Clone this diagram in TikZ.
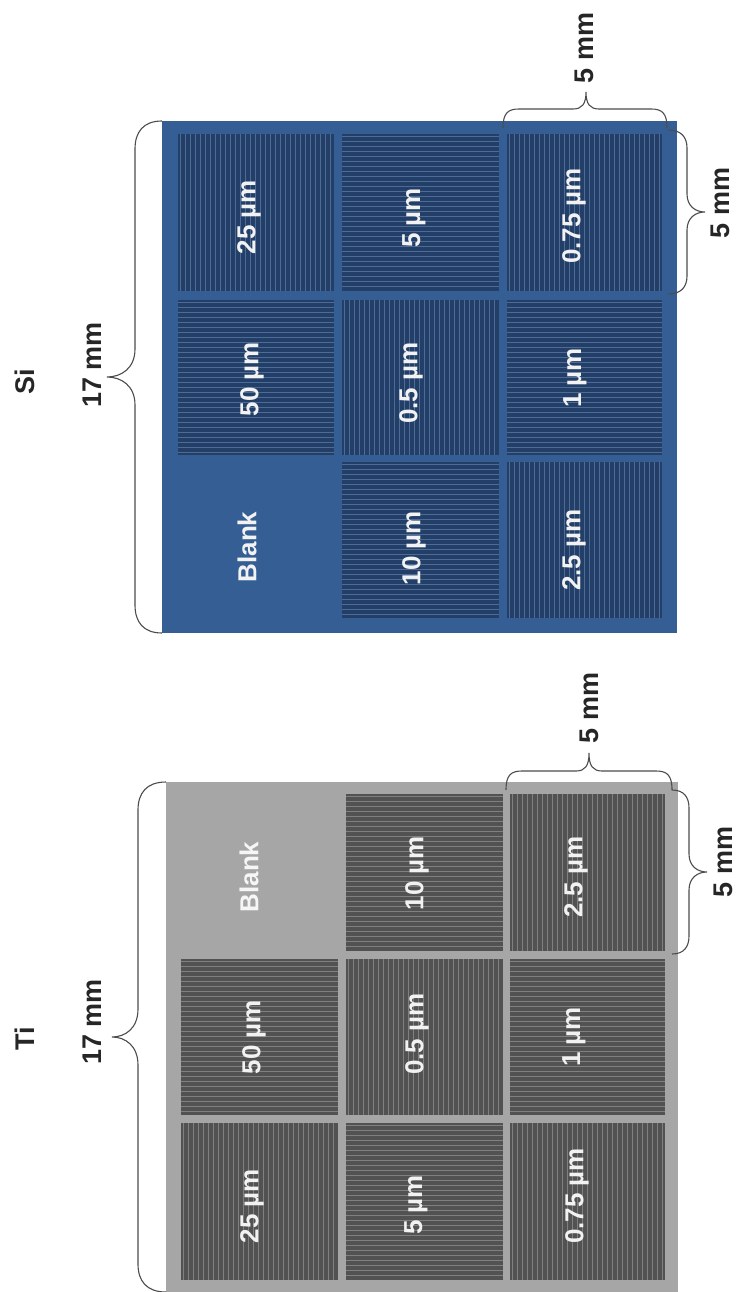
\documentclass[tikz,border=0pt]{standalone}
\usepackage{fontspec}
\setmainfont{Liberation Sans}
\definecolor{siplate}{HTML}{355F94}
\definecolor{sicell}{HTML}{233F68}
\definecolor{siline}{HTML}{4C6C97}
\definecolor{tiplate}{HTML}{A6A6A6}
\definecolor{ticell}{HTML}{525252}
\definecolor{tiline}{HTML}{808080}
\tikzset{
  dimlabel/.style={font=\fontsize{27}{30}\selectfont\bfseries,text=black!85,rotate=90,inner sep=0pt},
  celllabel/.style={font=\fontsize{26}{30}\selectfont\bfseries,text=white!95!black,rotate=90,inner sep=0pt},
  bracket/.style={draw=black!70,line width=1.1pt,fill=none},
  hatchline/.style={line width=1pt}
}
% x, y, w, h, cell colour, line colour
\newcommand{\cellV}[6]{%
  \fill[#5] (#1,#2) rectangle ++(#3,#4);
  \foreach \d in {2.5,7.5,...,#3} \draw[hatchline,#6] ({#1+\d},#2) -- ++(0,#4);}
\newcommand{\cellH}[6]{%
  \fill[#5] (#1,#2) rectangle ++(#3,#4);
  \foreach \d in {2.5,7.5,...,#4} \draw[hatchline,#6] (#1,{#2+\d}) -- ++(#3,0);}
% horizontal-run brace opening downwards: x0, xm, x1, ytop(spine), ytip, yend
\newcommand{\braceTop}[6]{%
  \draw[bracket] (#1,#6) .. controls (#1,{#4+4}) and ({#1+5},#4) .. ({#1+16},#4)
    -- ({#2-13},#4) .. controls ({#2-4},#4) and (#2,{#4-5}) .. (#2,#5)
    .. controls (#2,{#4-5}) and ({#2+4},#4) .. ({#2+13},#4)
    -- ({#3-16},#4) .. controls ({#3-5},#4) and (#3,{#4+4}) .. (#3,#6);}
% vertical-run brace opening sideways: xend, xspine, xtip, y0, ym, y1, radius
\newcommand{\braceSide}[7]{%
  \draw[bracket] (#1,#4) .. controls ({#1+0.7*(#2-#1)},#4) and (#2,{#4+0.4*#7}) .. (#2,{#4+#7})
    -- (#2,{#5-#7}) .. controls (#2,{#5-0.3*#7}) and ({#2+0.5*(#3-#2)},#5) .. (#3,#5)
    .. controls ({#2+0.5*(#3-#2)},#5) and (#2,{#5+0.3*#7}) .. (#2,{#5+#7})
    -- (#2,{#6-#7}) .. controls (#2,{#6-0.4*#7}) and ({#1+0.7*(#2-#1)},#6) .. (#1,#6);}
\begin{document}
\begin{tikzpicture}[x=1pt,y=-1pt]
\useasboundingbox (0,0) rectangle (738,1292);
\fill[white] (0,0) rectangle (738,1292);
% Si plate
\fill[siplate] (162,121) rectangle (677,633);
\cellV{178}{134}{156}{157}{sicell}{siline}
\cellH{342}{134}{157}{157}{sicell}{siline}
\cellV{507}{134}{155}{157}{sicell}{siline}
\cellH{178}{300}{156}{155}{sicell}{siline}
\cellV{342}{300}{157}{155}{sicell}{siline}
\cellH{507}{300}{155}{155}{sicell}{siline}
\cellH{342}{462}{157}{156}{sicell}{siline}
\cellV{507}{462}{155}{156}{sicell}{siline}
\node[celllabel] (si25) at (249,217) {25 µm};
\node[celllabel] (si5) at (414,218) {5 µm};
\node[celllabel] (si075) at (574,216) {0.75 µm};
\node[celllabel] (si50) at (252,379) {50 µm};
\node[celllabel] (si05) at (411,383) {0.5 µm};
\node[celllabel] (si1) at (575,378) {1 µm};
\node[celllabel] (siblank) at (247,547) {Blank};
\node[celllabel] (si10) at (414,548) {10 µm};
\node[celllabel] (si25b) at (574,550) {2.5 µm};
% Ti plate
\fill[tiplate] (166,782) rectangle (678,1292);
\cellH{346}{794}{157}{157}{ticell}{tiline}
\cellV{510}{794}{155}{157}{ticell}{tiline}
\cellH{181}{959}{157}{156}{ticell}{tiline}
\cellV{346}{959}{157}{156}{ticell}{tiline}
\cellH{510}{959}{155}{156}{ticell}{tiline}
\cellV{181}{1123}{157}{157}{ticell}{tiline}
\cellH{346}{1123}{157}{157}{ticell}{tiline}
\cellV{510}{1123}{155}{157}{ticell}{tiline}
\node[celllabel,text=white!90!tiplate] (tiblank) at (249,877) {Blank};
\node[celllabel] (ti10) at (417,873) {10 µm};
\node[celllabel] (ti25b) at (576,877) {2.5 µm};
\node[celllabel] (ti50) at (254,1037) {50 µm};
\node[celllabel] (ti05) at (417,1034) {0.5 µm};
\node[celllabel] (ti1) at (574,1037) {1 µm};
\node[celllabel] (ti25) at (252,1206) {25 µm};
\node[celllabel] (ti5) at (416,1205) {5 µm};
\node[celllabel] (ti075) at (577,1196) {0.75 µm};
% braces Si
\braceSide{162}{135}{107}{121}{377}{633}{28}
\braceTop{503}{586}{667}{109}{92}{128}
\braceSide{668}{687}{705}{130}{212}{294}{18}
% braces Ti
\braceSide{166}{138}{112}{782}{1037}{1292}{28}
\braceTop{506}{589}{672}{771}{753}{790}
\braceSide{672}{689}{707}{790}{872}{954}{18}
% labels
\node[dimlabel] (si) at (25,382) {Si};
\node[dimlabel] (ti) at (25,1039) {Ti};
\node[dimlabel] (si17) at (92,365) {17 mm};
\node[dimlabel] (ti17) at (92,1022) {17 mm};
\node[dimlabel] (si5a) at (584,48) {5 mm};
\node[dimlabel] (si5b) at (720,203) {5 mm};
\node[dimlabel] (ti5a) at (589,708) {5 mm};
\node[dimlabel] (ti5b) at (723,862) {5 mm};
\end{tikzpicture}
\end{document}
